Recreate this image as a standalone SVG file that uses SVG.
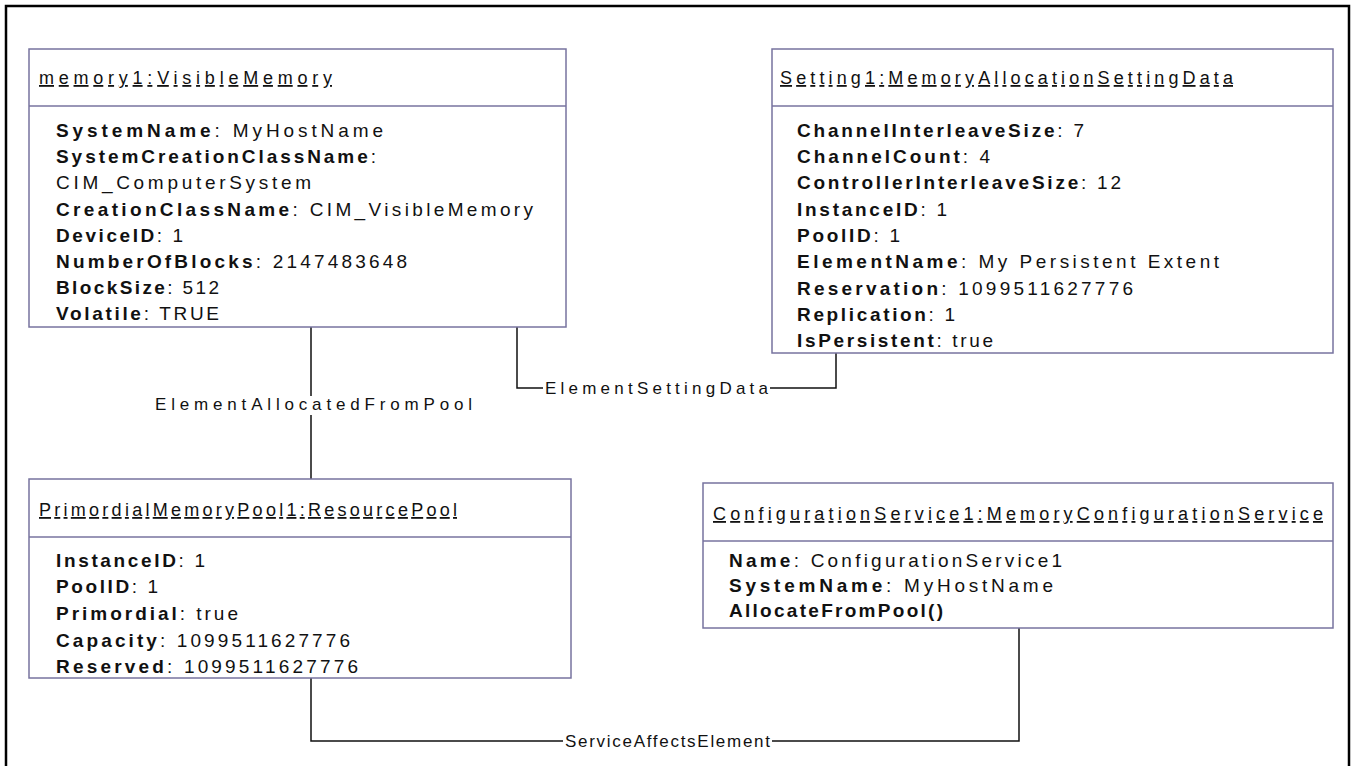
<svg xmlns="http://www.w3.org/2000/svg" width="1352" height="766" viewBox="0 0 1352 766">
<style>
.box{fill:#fff;stroke:#77739f;stroke-width:1.5}
.div{stroke:#77739f;stroke-width:1.5}
.hdr{font-family:"Liberation Sans",Arial,sans-serif;font-size:18px;fill:#111;text-decoration:underline}
.att{font-family:"Liberation Sans",Arial,sans-serif;font-size:19px;fill:#111}
.b{font-weight:bold}
.lbl{font-family:"Liberation Sans",Arial,sans-serif;font-size:17px;fill:#111}
.con{fill:none;stroke:#111;stroke-width:1.5}
</style>
<rect x="6" y="6" width="1343" height="800" fill="none" stroke="#000" stroke-width="2.5"/>

<g id="connectors">
<path class="con" d="M311 322 V396 M311 415 V479"/>
<text class="lbl" x="155" y="410" textLength="317" lengthAdjust="spacing">ElementAllocatedFromPool</text>
<path class="con" d="M517 322 V388 H543 M770 388 H836 V353"/>
<text class="lbl" x="545" y="394" textLength="223" lengthAdjust="spacing">ElementSettingData</text>
<path class="con" d="M311 678 V741 H563 M772 741 H1019 V628"/>
<text class="lbl" x="565" y="747" textLength="205" lengthAdjust="spacing">ServiceAffectsElement</text>
</g>

<g id="memory1">
<rect class="box" x="29" y="49" width="537" height="278"/>
<line class="div" x1="29" y1="106" x2="566" y2="106"/>
<text class="hdr" x="39" y="84" textLength="293" lengthAdjust="spacing">memory1:VisibleMemory</text>
<text class="att" x="56" y="137" textLength="327" lengthAdjust="spacing"><tspan class="b">SystemName</tspan>: MyHostName</text>
<text class="att" x="56" y="163" textLength="320" lengthAdjust="spacing"><tspan class="b">SystemCreationClassName</tspan>:</text>
<text class="att" x="56" y="189" textLength="255" lengthAdjust="spacing">CIM_ComputerSystem</text>
<text class="att" x="56" y="216" textLength="477" lengthAdjust="spacing"><tspan class="b">CreationClassName</tspan>: CIM_VisibleMemory</text>
<text class="att" x="56" y="242" textLength="127" lengthAdjust="spacing"><tspan class="b">DeviceID</tspan>: 1</text>
<text class="att" x="56" y="268" textLength="351" lengthAdjust="spacing"><tspan class="b">NumberOfBlocks</tspan>: 2147483648</text>
<text class="att" x="56" y="294" textLength="163" lengthAdjust="spacing"><tspan class="b">BlockSize</tspan>: 512</text>
<text class="att" x="56" y="320" textLength="163" lengthAdjust="spacing"><tspan class="b">Volatile</tspan>: TRUE</text>
</g>

<g id="setting1">
<rect class="box" x="772" y="49" width="561" height="304"/>
<line class="div" x1="772" y1="106" x2="1333" y2="106"/>
<text class="hdr" x="780" y="84" textLength="453" lengthAdjust="spacing">Setting1:MemoryAllocationSettingData</text>
<text class="att" x="797" y="137" textLength="287" lengthAdjust="spacing"><tspan class="b">ChannelInterleaveSize</tspan>: 7</text>
<text class="att" x="797" y="163" textLength="193" lengthAdjust="spacing"><tspan class="b">ChannelCount</tspan>: 4</text>
<text class="att" x="797" y="189" textLength="324" lengthAdjust="spacing"><tspan class="b">ControllerInterleaveSize</tspan>: 12</text>
<text class="att" x="797" y="216" textLength="150" lengthAdjust="spacing"><tspan class="b">InstanceID</tspan>: 1</text>
<text class="att" x="797" y="242" textLength="103" lengthAdjust="spacing"><tspan class="b">PoolID</tspan>: 1</text>
<text class="att" x="797" y="268" textLength="422" lengthAdjust="spacing"><tspan class="b">ElementName</tspan>: My Persistent Extent</text>
<text class="att" x="797" y="295" textLength="336" lengthAdjust="spacing"><tspan class="b">Reservation</tspan>: 1099511627776</text>
<text class="att" x="797" y="321" textLength="158" lengthAdjust="spacing"><tspan class="b">Replication</tspan>: 1</text>
<text class="att" x="797" y="347" textLength="196" lengthAdjust="spacing"><tspan class="b">IsPersistent</tspan>: true</text>
</g>

<g id="pool1">
<rect class="box" x="29" y="479" width="542" height="199"/>
<line class="div" x1="29" y1="537" x2="571" y2="537"/>
<text class="hdr" x="39" y="516" textLength="418" lengthAdjust="spacing">PrimordialMemoryPool1:ResourcePool</text>
<text class="att" x="56" y="567" textLength="149" lengthAdjust="spacing"><tspan class="b">InstanceID</tspan>: 1</text>
<text class="att" x="56" y="593" textLength="102" lengthAdjust="spacing"><tspan class="b">PoolID</tspan>: 1</text>
<text class="att" x="56" y="620" textLength="182" lengthAdjust="spacing"><tspan class="b">Primordial</tspan>: true</text>
<text class="att" x="56" y="647" textLength="294" lengthAdjust="spacing"><tspan class="b">Capacity</tspan>: 1099511627776</text>
<text class="att" x="56" y="673" textLength="302" lengthAdjust="spacing"><tspan class="b">Reserved</tspan>: 1099511627776</text>
</g>

<g id="configservice1">
<rect class="box" x="703" y="483" width="630" height="145"/>
<line class="div" x1="703" y1="541" x2="1333" y2="541"/>
<text class="hdr" x="713" y="520" textLength="610" lengthAdjust="spacing">ConfigurationService1:MemoryConfigurationService</text>
<text class="att" x="729" y="567" textLength="333" lengthAdjust="spacing"><tspan class="b">Name</tspan>: ConfigurationService1</text>
<text class="att" x="729" y="592" textLength="324" lengthAdjust="spacing"><tspan class="b">SystemName</tspan>: MyHostName</text>
<text class="att b" x="729" y="617" textLength="214" lengthAdjust="spacing">AllocateFromPool()</text>
</g>
</svg>
